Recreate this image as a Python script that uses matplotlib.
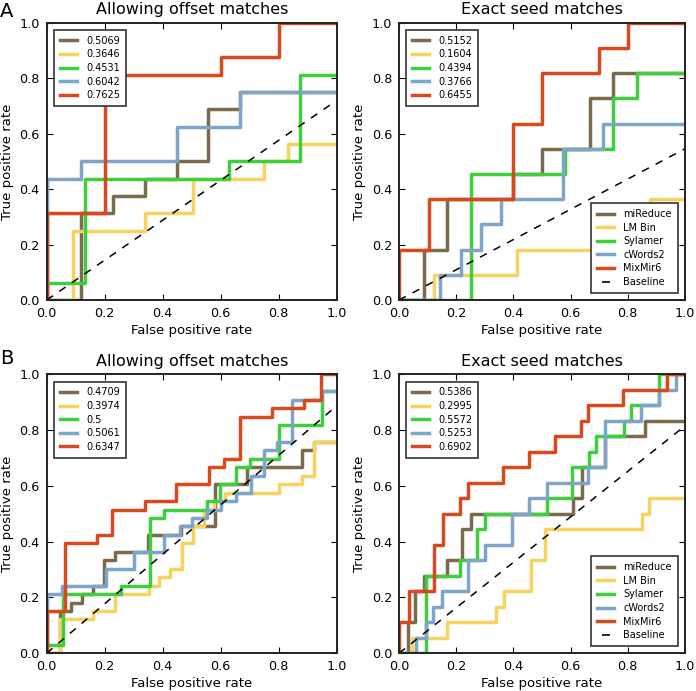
import numpy as np
import matplotlib
matplotlib.use('Agg')
import matplotlib.pyplot as plt
from matplotlib.lines import Line2D

methods = ['miReduce', 'LM Bin', 'Sylamer', 'cWords2', 'MixMir6']
colors = ['#7b6a4e', '#f5d35e', '#40cf3c', '#7ea4c9', '#d84a1e']

# A - allowing offset matches (tpr counted in 1/16)
a_off_fpr = [[0, 0.118, 0.228, 0.339, 0.448, 0.557, 0.667, 1.0],
             [0, 0.092, 0.339, 0.506, 0.75, 0.833, 1.0],
             [0, 0, 0.132, 0.629, 0.874, 1.0],
             [0, 0, 0.118, 0.448, 0.667, 1.0],
             [0, 0, 0.2, 0.6, 0.8, 1.0]]
a_off_tpr = [[0, 5, 6, 7, 8, 11, 12, 12],
             [0, 4, 5, 7, 8, 9, 9],
             [0, 1, 7, 8, 13, 13],
             [0, 7, 8, 10, 12, 12],
             [0, 5, 13, 14, 16, 16]]
a_off_auc = ['0.5069', '0.3646', '0.4531', '0.6042', '0.7625']
a_off_base = 0.72

# A - exact seed matches (tpr counted in 1/11)
a_ex_fpr = [[0, 0.087, 0.169, 0.4, 0.5, 0.668, 0.749, 1.0],
            [0, 0.121, 0.414, 0.824, 0.876, 1.0],
            [0, 0.25, 0.58, 0.749, 0.832, 1.0],
            [0, 0.142, 0.217, 0.287, 0.358, 0.573, 0.712, 1.0],
            [0, 0, 0.104, 0.4, 0.5, 0.7, 0.8, 1.0]]
a_ex_tpr = [[0, 2, 4, 5, 6, 8, 9, 9],
            [0, 1, 2, 3, 4, 4],
            [0, 5, 6, 8, 9, 9],
            [0, 1, 2, 3, 4, 6, 7, 7],
            [0, 2, 4, 7, 9, 10, 11, 11]]
a_ex_auc = ['0.5152', '0.1604', '0.4394', '0.3766', '0.6455']
a_ex_base = 6 / 11

# B - allowing offset matches (tpr counted in 1/33)
b_off_fpr = [[0, 0.046, 0.083, 0.12, 0.161, 0.198, 0.235, 0.349, 0.463, 0.582, 0.691, 0.881, 0.92, 1.0],
             [0, 0.046, 0.161, 0.235, 0.354, 0.386, 0.424, 0.466, 0.505, 0.541, 0.578, 0.616, 0.8, 0.881, 0.92, 1.0],
             [0, 0, 0.057, 0.256, 0.357, 0.403, 0.551, 0.599, 0.651, 0.7, 0.8, 0.95, 1.0],
             [0, 0, 0.054, 0.204, 0.302, 0.403, 0.461, 0.501, 0.553, 0.6, 0.651, 0.703, 0.749, 0.795, 0.847, 0.95, 1.0],
             [0, 0, 0.062, 0.175, 0.225, 0.338, 0.447, 0.559, 0.61, 0.668, 0.778, 0.887, 0.945, 1.0]]
b_off_tpr = [[0, 5, 6, 7, 8, 11, 12, 14, 15, 20, 22, 24, 25, 25],
             [0, 4, 5, 7, 8, 9, 10, 13, 15, 17, 18, 19, 20, 21, 25, 25],
             [0, 1, 7, 8, 16, 17, 18, 20, 22, 23, 27, 31, 31],
             [0, 7, 8, 10, 12, 14, 15, 16, 17, 18, 19, 21, 24, 25, 30, 31, 31],
             [0, 5, 13, 14, 17, 18, 20, 22, 23, 28, 29, 30, 33, 33]]
b_off_auc = ['0.4709', '0.3974', '0.5', '0.5061', '0.6347']
b_off_base = 0.887

# B - exact seed matches (tpr counted in 1/18)
b_ex_fpr = [[0, 0.03, 0.057, 0.088, 0.169, 0.221, 0.25, 0.61, 0.64, 0.72, 0.859, 1.0],
            [0, 0.047, 0.169, 0.338, 0.368, 0.462, 0.512, 0.851, 0.874, 1.0],
            [0, 0.094, 0.212, 0.273, 0.3, 0.518, 0.605, 0.666, 0.69, 0.786, 0.812, 0.909, 1.0],
            [0, 0.061, 0.094, 0.119, 0.152, 0.242, 0.3, 0.394, 0.454, 0.518, 0.662, 0.72, 0.847, 0.909, 0.969, 1.0],
            [0, 0, 0.034, 0.122, 0.154, 0.212, 0.242, 0.364, 0.454, 0.545, 0.636, 0.662, 0.784, 0.937, 1.0]]
b_ex_tpr = [[0, 2, 4, 5, 6, 8, 9, 10, 12, 14, 15, 15],
            [0, 1, 2, 3, 4, 6, 8, 9, 10, 10],
            [0, 5, 6, 8, 9, 10, 12, 13, 14, 15, 16, 18, 18],
            [0, 1, 2, 3, 4, 6, 7, 9, 10, 11, 12, 15, 16, 17, 18, 18],
            [0, 2, 4, 7, 9, 10, 11, 12, 13, 14, 15, 16, 17, 18, 18]]
b_ex_auc = ['0.5386', '0.2995', '0.5572', '0.5253', '0.6902']
b_ex_base = 0.815

leg_kw = dict(fontsize=7, handlelength=1.75, handletextpad=0.95, labelspacing=0.37,
              borderpad=0.6, borderaxespad=0.75, fancybox=False, framealpha=1,
              edgecolor='#333333')


def draw(ax, fprs, tprs, n, aucs, base, title, names):
    lines = []
    for fpr, tpr, c in zip(fprs, tprs, colors):
        ln, = ax.step(fpr, np.array(tpr) / n, where='post', color=c, lw=2.5)
        lines.append(ln)
    ax.plot([0, 1], [0, base], color='k', lw=1.1, ls=(0, (5, 5)))
    ax.set_xlim(0, 1)
    ax.set_ylim(0, 1)
    ticks = [0, 0.2, 0.4, 0.6, 0.8, 1.0]
    ax.set_xticks(ticks)
    ax.set_yticks(ticks)
    ax.tick_params(direction='in', top=True, right=True, length=4, width=0.8,
                   labelsize=9.2, pad=5)
    for s in ax.spines.values():
        s.set_linewidth(1.4)
        s.set_color('#222222')
    ax.set_title(title, fontsize=11.5, pad=6)
    ax.set_xlabel('False positive rate', fontsize=9.5, labelpad=3)
    ax.set_ylabel('True positive rate', fontsize=9.5, labelpad=4)
    leg = ax.legend(lines, aucs, loc='upper left', **leg_kw)
    leg.get_frame().set_linewidth(1.2)
    if names:
        ax.add_artist(leg)
        base_h = Line2D([], [], color='k', marker='_', ls='none',
                        markersize=6, markeredgewidth=1.2)
        leg2 = ax.legend(lines + [base_h], methods + ['Baseline'],
                         loc='lower right', numpoints=1, **leg_kw)
        leg2.get_frame().set_linewidth(1.2)


fig = plt.figure(figsize=(6.96, 6.91), dpi=100)
ax1 = fig.add_axes([0.0671, 0.5658, 0.4167, 0.4013])
ax2 = fig.add_axes([0.5733, 0.5658, 0.4109, 0.4013])
ax3 = fig.add_axes([0.0671, 0.0546, 0.4167, 0.4038])
ax4 = fig.add_axes([0.5733, 0.0546, 0.4109, 0.4038])

draw(ax1, a_off_fpr, a_off_tpr, 16, a_off_auc, a_off_base, 'Allowing offset matches', False)
draw(ax2, a_ex_fpr, a_ex_tpr, 11, a_ex_auc, a_ex_base, 'Exact seed matches', True)
draw(ax3, b_off_fpr, b_off_tpr, 33, b_off_auc, b_off_base, 'Allowing offset matches', False)
draw(ax4, b_ex_fpr, b_ex_tpr, 18, b_ex_auc, b_ex_base, 'Exact seed matches', True)

fig.text(0.0, 0.997, 'A', fontsize=14, va='top', ha='left')
fig.text(0.0, 0.495, 'B', fontsize=14, va='top', ha='left')

fig.savefig('out.png', dpi=100)
